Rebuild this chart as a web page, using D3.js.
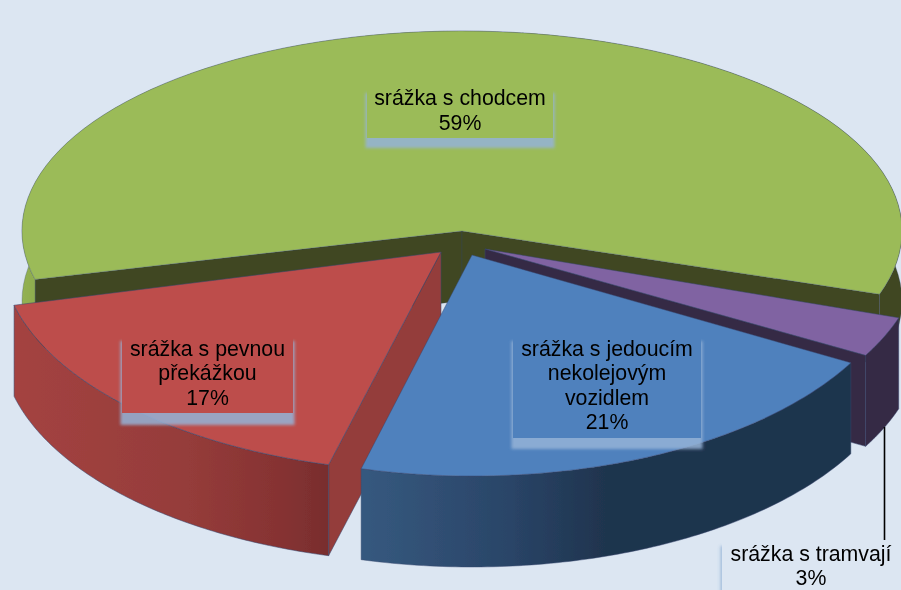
<!DOCTYPE html>
<html><head><meta charset="utf-8">
<script src="https://cdn.jsdelivr.net/npm/d3@7"></script>
<style>html,body{margin:0;padding:0;background:#dce6f2}svg{display:block}</style>
</head><body><svg id="c" width="901" height="590"></svg>
<script>
const categories = ["srážka s chodcem","srážka s tramvají","srážka s jedoucím nekolejovým vozidlem","srážka s pevnou překážkou"];
const values = [59,3,21,17];
const labelLines = [["srážka s chodcem","59%"],["srážka s tramvají","3%"],["srážka s jedoucím","nekolejovým","vozidlem","21%"],["srážka s pevnou","překážkou","17%"]];

const rad=d3.scaleLinear().domain([0,180]).range([0,Math.PI]);
const svg=d3.select("#c");
const defs=svg.append("defs");
const f=defs.append("filter").attr("id","glow").attr("x","-10%").attr("y","-20%").attr("width","120%").attr("height","140%");
f.append("feGaussianBlur").attr("stdDeviation",1.8);
const soft=defs.append("filter").attr("id","soft").attr("filterUnits","userSpaceOnUse").attr("x",0).attr("y",0).attr("width",901).attr("height",590);
soft.append("feGaussianBlur").attr("stdDeviation",0.4);
const root=svg.append("g").attr("filter","url(#soft)");
function grad(id,x1,x2,stops){
  const g=defs.append("linearGradient").attr("id",id).attr("gradientUnits","userSpaceOnUse").attr("x1",x1).attr("x2",x2).attr("y1",0).attr("y2",0);
  stops.forEach(s=>g.append("stop").attr("offset",s[0]).attr("stop-color",s[1]));
}
grad("gG",22,901,[[0,"#93b152"],[0.02,"#8dab4e"],[0.96,"#3f4722"],[1,"#3f4722"]]);
grad("gP",850,901,[[0,"#352a45"],[1,"#352a45"]]);
grad("gB",361,850,[[0,"#36597f"],[0.3,"#2a4568"],[0.5,"#1f344e"],[1,"#1f344e"]]);
grad("gR",14,332,[[0,"#a44341"],[0.55,"#953c3a"],[0.85,"#853232"],[1,"#772d2d"]]);

const pie=d3.pie().sort(null).value(d=>d).startAngle(rad(-104)).endAngle(rad(256));
const arcs=pie(values);
// per-slice geometry: [apexX, apexY, radiusX, radiusY, depth]
const geom=[[462,231,440,200,70],[485,249,436,218,91],[472,255,434,221,91],[441,252,440,220,91]];
const faceColor=["#9bbb59","#8064a2","#4f81bd","#bd4e4b"];
const wallIn=["#3f4722","#352a45","#1f344e","#943c3a"];
const wallOut=["url(#gG)","url(#gP)","url(#gB)","url(#gR)"];
const radialWalls=[["startAngle","endAngle"],["endAngle"],[],["startAngle"]];
const edgeAlpha=[.3,.55,.5,.6];
const line=d3.line();
function slice(i){
  const a=arcs[i],g=geom[i],depth=g[4];
  const P=(t,d=0)=>[g[0]+g[2]*Math.sin(t),g[1]-g[3]*Math.cos(t)+d];
  const n=90,ts=d3.range(n+1).map(k=>a.startAngle+(a.endAngle-a.startAngle)*k/n);
  const apex=[g[0],g[1]];
  const G=root.append("g");
  const draw=(pts,fill)=>G.append("path").attr("d",line(pts)+"Z").attr("fill",fill)
    .attr("stroke",`rgba(55,70,110,${edgeAlpha[i]})`).attr("stroke-width",.9).attr("stroke-linejoin","round");
  radialWalls[i].forEach(k=>{
    const t=a[k];
    draw([apex,P(t),P(t,depth),[apex[0],apex[1]+depth]],wallIn[i]);
  });
  const wall=ts.map(t=>P(t)).concat(ts.slice().reverse().map(t=>P(t,depth)));
  draw(wall,wallOut[i]);
  draw([apex].concat(ts.map(t=>P(t))),faceColor[i]);
}
// painter order: back slice first
[0,1,3,2].forEach(slice);

// labels: [box x, top, right, bottom, band bottom, fill, index, first baseline]
const boxes=[
 [367,90,553,138,148,"#9bbb59",0,105],
 [122,338,293,413,425,"#bd4e4b",3,355.5],
 [513,338,701,438,449,"#4f81bd",2,355.5],
 [722,543,915,600,600,"#dce6f2",1,560.5]
];
root.append("line").attr("x1",884.5).attr("x2",884.5).attr("y1",427).attr("y2",540).attr("stroke","#000").attr("stroke-width",1.6);
boxes.forEach(b=>{
  root.append("rect").attr("x",b[0]-1.5).attr("y",b[1]+3).attr("width",b[2]-b[0]+3).attr("height",b[4]-b[1]-3)
    .attr("fill","#95b3d7").attr("opacity",.85).attr("filter","url(#glow)");
  root.append("rect").attr("x",b[0]).attr("y",b[1]-3).attr("width",b[2]-b[0]).attr("height",b[3]-b[1]+3).attr("fill",b[5]);
  const cx=b[6]==1?811:(b[0]+b[2])/2;
  labelLines[b[6]].forEach((t,k)=>root.append("text").attr("x",cx).attr("y",b[7]+k*24.5)
    .attr("text-anchor","middle").attr("font-family","'Liberation Sans',Arial,sans-serif").attr("font-size",21.3).attr("fill","#000").text(t));
});
</script></body></html>
